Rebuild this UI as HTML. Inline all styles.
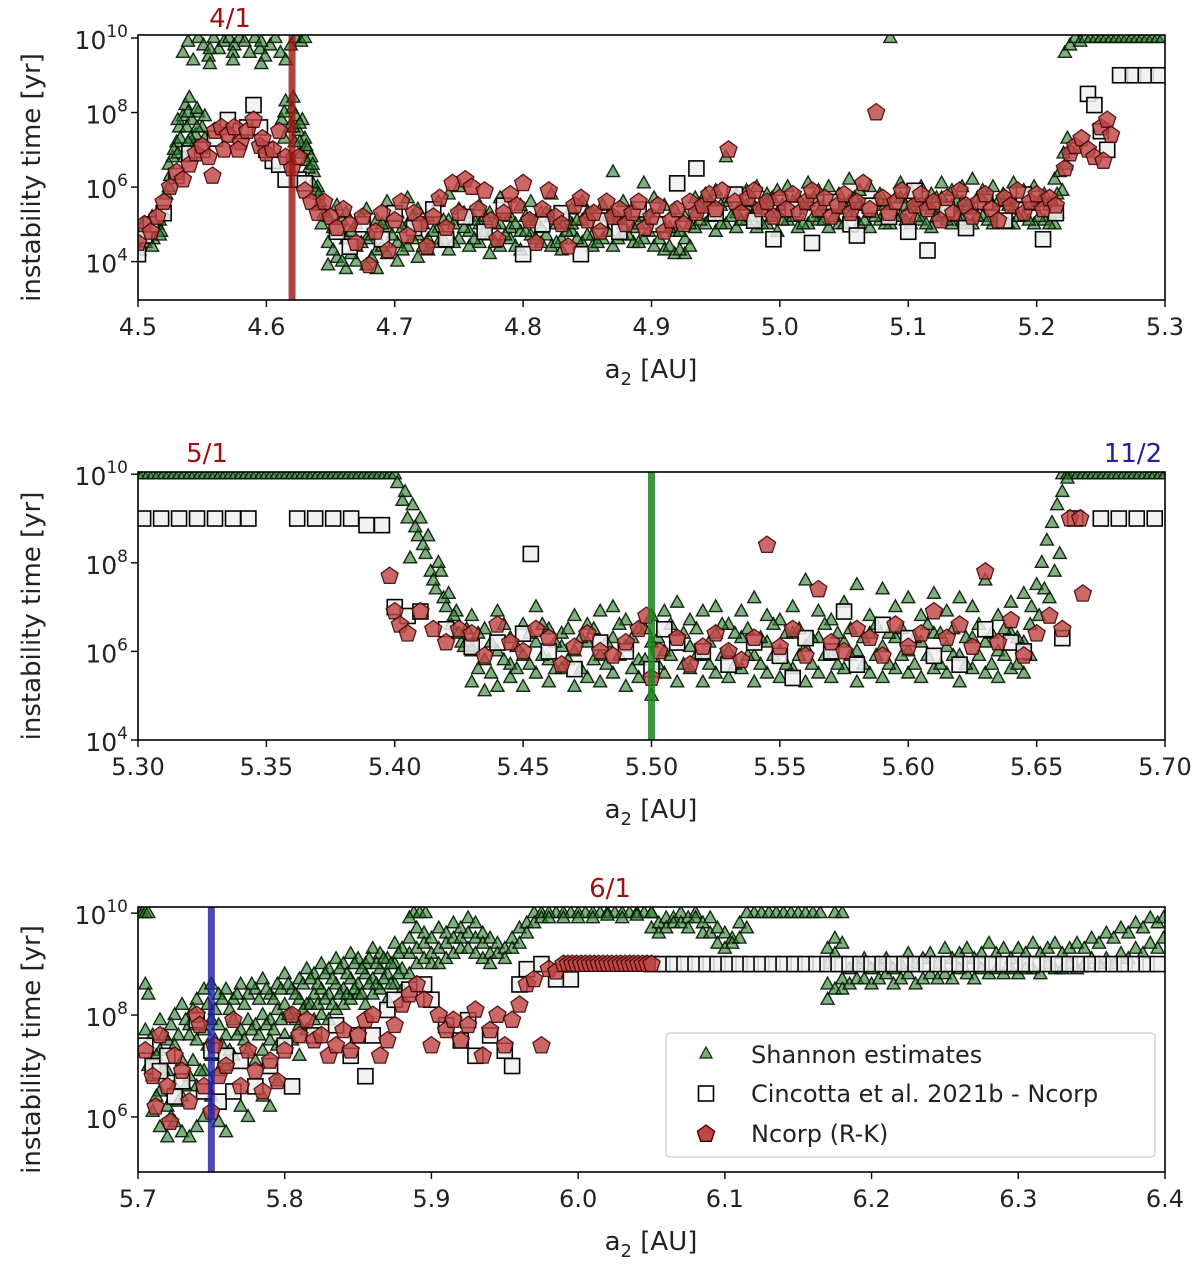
<!DOCTYPE html>
<html><head><meta charset="utf-8"><style>
html,body{margin:0;padding:0;background:#fff}
svg{display:block;font-family:"DejaVu Sans","Liberation Sans",sans-serif}
</style></head><body>
<svg id="chart" width="1200" height="1267" viewBox="0 0 1200 1267"></svg>
<script>
// ---------- Panel 1 data (x in AU, value = log10(years)) ----------
const p1GreenRows = [[4.501,4.3],[4.503,4.7],[4.506,4.5],[4.509,4.9],[4.512,4.6],[4.515,5.0],[4.518,4.8],[4.52,5.3],[4.522,5.8],[4.525,6.3],[4.527,6.8],[4.53,7.2],[4.532,7.6],[4.535,7.9],[4.537,8.2],[4.54,8.4],[4.542,7.8],[4.545,7.4],[4.547,8.0],[4.55,7.6],[4.528,7.0],[4.533,7.3],[4.538,7.6],[4.543,7.1],[4.548,7.0],[4.536,6.8],[4.541,7.3],
[4.535,9.6],[4.539,9.9],[4.543,9.4],[4.547,10],[4.551,9.8],[4.555,9.5],[4.559,10],[4.563,9.7],[4.567,9.9],[4.571,10],[4.575,9.8],[4.579,10],[4.583,9.9],[4.587,9.6],[4.591,10],[4.595,9.7],[4.599,9.5],[4.603,9.8],[4.607,10],[4.611,9.6],[4.615,9.4],[4.619,9.8],[4.623,10],[4.627,9.9],[4.63,10],
[4.612,7.8],[4.615,8.3],[4.618,7.6],[4.62,8.1],[4.623,7.9],[4.625,7.5],[4.628,7.8],[4.63,7.3],[4.632,7.0],[4.635,6.8],[4.637,6.4],[4.64,6.0],[4.642,5.6],[4.645,5.3],[4.618,6.8],[4.622,7.2],[4.627,6.9],[4.633,6.5],[4.638,5.9],[4.643,5.0],
[4.648,4.5,5.2,3.9],[4.655,4.1,4.8,5.5],[4.662,3.8,4.6,5.3],[4.67,4.0,5.0,4.4],[4.678,3.9,5.4,4.6],[4.686,4.3,3.8,5.1],[4.694,4.2,4.9,5.6],[4.702,4.5,5.3,4.0],[4.71,4.4,5.0,5.7],[4.718,4.1,4.7,5.4],[4.726,4.6,5.2,4.3],[4.734,4.5,5.6,4.9],[4.742,4.3,5.1,5.8],[4.75,4.6,5.4,6.0],[4.758,4.8,5.2,4.4],[4.766,4.5,5.5,5.0],[4.774,4.7,5.3,4.2],[4.782,4.4,5.0,5.7],[4.79,4.6,5.2,4.9],[4.798,4.3,5.5,4.8],[4.806,4.7,5.1,5.6],[4.814,4.5,4.9,5.3],[4.822,4.4,5.2,5.8],[4.83,4.6,5.0,4.3],[4.838,4.8,5.4,5.0],[4.846,4.5,5.1,5.6],[4.854,4.7,5.3,4.4],[4.862,4.6,5.5,5.0],[4.87,4.4,5.2,6.4],[4.878,4.7,5.0,5.6],[4.886,4.5,5.4,4.9],[4.894,4.6,5.2,6.1],[4.902,4.4,5.1,5.7],[4.91,4.3,4.9,5.5],[4.918,4.2,4.8,5.4],[4.926,4.2,4.6,5.2],[4.934,4.9,5.3,5.7],[4.942,5.0,5.5,5.8],[4.95,4.8,5.4,5.9],[4.958,5.0,5.6,6.8],[4.966,4.9,5.3,5.8],[4.974,5.1,5.5,5.9],[4.982,4.9,5.4,6.0],[4.99,5.0,5.6,5.8],[4.998,4.8,5.3,5.9],[5.006,5.1,5.5,6.0],[5.014,4.9,5.4,5.7],[5.022,5.0,5.6,6.1],[5.03,5.1,5.3,5.9],[5.038,4.9,5.5,6.0],[5.046,5.0,5.4,5.8],[5.054,5.2,5.6,6.2],[5.062,5.0,5.5,5.9],[5.07,4.9,5.3,6.0],[5.078,5.1,5.6,5.8],[5.086,5.0,5.4,10.0],[5.094,5.2,5.7,6.1],[5.102,5.0,5.5,5.9],[5.11,5.1,5.6,6.0],[5.118,4.9,5.4,5.8],[5.126,5.2,5.7,6.1],[5.134,5.0,5.5,5.9],[5.142,5.1,5.6,6.0],[5.15,5.0,5.4,6.2],[5.158,5.2,5.7,5.9],[5.166,5.0,5.5,6.0],[5.174,5.1,5.6,5.8],[5.182,5.0,5.4,6.1],[5.19,5.2,5.7,5.9],[5.198,5.0,5.5,6.0],[5.206,5.1,5.6,5.8],[5.214,5.0,5.5,6.2],
[5.218,6.4],[5.221,6.9],[5.224,7.3],[5.226,7.0],[5.223,6.6],[5.22,5.9],[5.222,9.6],[5.226,9.8],[5.23,10],[5.234,9.9],[5.238,10],[5.242,10],[5.246,10],[5.25,10],[5.254,10],[5.258,10],[5.262,10],[5.266,10],[5.27,10],[5.274,10],[5.278,10],[5.282,10],[5.286,10],[5.29,10],[5.294,10],[5.298,10]];
const p1GreenExtra = [[4.504,4.6,5.0],[4.511,4.4,5.2],[4.517,5.1,4.7],[4.524,6.0,6.6],[4.531,6.9,7.8],[4.539,7.2,8.0],[4.546,7.6,8.1],[4.552,7.3,7.9],[4.556,9.7,9.3],[4.574,9.6,9.4],[4.596,9.9,9.3],[4.614,7.3,8.0],[4.621,7.6,8.4],[4.626,7.2,7.7],[4.631,6.7,7.1],[4.636,6.1,6.6],[4.641,5.5,5.8],
[4.652,4.3,4.9],[4.659,4.0,5.1],[4.666,4.2,4.8],[4.674,4.5,5.2],[4.682,4.1,4.7],[4.69,4.4,5.0],[4.698,4.7,5.2],[4.706,4.3,4.9],[4.714,4.6,5.2],[4.722,4.4,5.0],[4.73,4.8,5.3],[4.738,4.6,5.1],[4.746,4.5,5.0],[4.754,4.9,5.3],[4.762,4.6,5.1],[4.77,4.8,5.2],[4.778,4.5,5.0],[4.786,4.7,5.3],[4.794,4.4,5.0],[4.802,4.8,5.2],[4.81,4.6,5.1],[4.818,4.7,5.3],[4.826,4.5,5.0],[4.834,4.8,5.2],[4.842,4.6,5.1],[4.85,4.7,5.3],[4.858,4.5,5.0],[4.866,4.8,5.2],[4.874,4.6,5.1],[4.882,4.7,5.3],[4.89,4.5,5.0],[4.898,4.8,5.2],[4.906,4.6,5.0],[4.914,4.4,4.9],[4.922,4.3,4.8],[4.93,4.4,5.0],[4.938,5.1,5.5],[4.946,5.2,5.6],[4.954,5.0,5.5],[4.962,5.2,5.7],[4.97,5.1,5.5],[4.978,5.2,5.6],[4.986,5.0,5.5],[4.994,5.2,5.7],[5.002,5.1,5.5],[5.01,5.2,5.6],[5.018,5.0,5.5],[5.026,5.2,5.7],[5.034,5.1,5.5],[5.042,5.2,5.6],[5.05,5.0,5.5],[5.058,5.2,5.7],[5.066,5.1,5.5],[5.074,5.2,5.6],[5.082,5.0,5.5],[5.09,5.2,5.7],[5.098,5.1,5.5],[5.106,5.2,5.6],[5.114,5.0,5.5],[5.122,5.2,5.7],[5.13,5.1,5.5],[5.138,5.2,5.6],[5.146,5.0,5.5],[5.154,5.2,5.7],[5.162,5.1,5.5],[5.17,5.2,5.6],[5.178,5.0,5.5],[5.186,5.2,5.7],[5.194,5.1,5.5],[5.202,5.2,5.6],[5.21,5.0,5.5],[5.216,5.3,5.8]];
const p1Squares = [[4.5,4.2],[4.505,4.7],[4.51,5.0],[4.52,5.3],[4.53,6.3],[4.54,6.9],[4.55,7.0],[4.56,7.3],[4.57,7.8],[4.58,7.5],[4.585,7.6],[4.59,8.2],[4.595,7.6],[4.6,7.0],[4.605,6.7],[4.61,6.6],[4.615,6.2],[4.625,6.2],[4.63,6.1],
[4.655,4.8],[4.665,4.4],[4.675,5.0],[4.69,4.6],[4.70,5.3],[4.715,4.9],[4.73,5.4],[4.74,4.6],[4.755,5.2],[4.77,4.8],[4.785,5.5],[4.80,4.2],[4.815,5.0],[4.83,5.3],[4.845,4.2],[4.86,5.1],[4.875,4.8],[4.89,5.4],[4.905,5.0],[4.92,6.1],[4.935,6.5],[4.95,5.3],[4.965,5.8],[4.98,5.1],[4.995,4.6],[5.01,5.4],[5.025,4.5],[5.04,5.6],[5.055,5.0],[5.07,5.5],[5.085,5.2],[5.10,4.8],[5.115,4.3],[5.13,5.4],[5.145,4.9],[5.16,5.6],[5.175,5.1],[5.19,5.8],[5.205,4.6],[5.215,5.3],[5.105,5.9],[5.06,4.7],
[5.24,8.5],[5.245,8.2],[5.25,7.5],[5.255,7.0],[5.265,9.0],[5.275,9.0],[5.285,9.0],[5.295,9.0]];
const p1Red = [[4.5,4.5],[4.505,5.0],[4.51,4.8],[4.515,5.2],[4.52,5.6],[4.525,6.0],[4.53,6.4],[4.535,6.2],[4.54,6.6],[4.545,6.9],[4.55,7.1],[4.555,6.8],[4.56,7.5],[4.565,7.6],[4.57,7.4],[4.575,7.6],[4.58,7.2],[4.585,7.5],[4.59,7.8],[4.595,7.1],[4.6,6.9],[4.605,7.0],[4.61,7.5],[4.615,6.8],[4.62,6.5],[4.625,6.8],[4.558,6.3],[4.567,7.0],[4.578,7.0],[4.597,7.3],[4.63,5.9],[4.635,5.6],[4.64,5.3],
[4.645,5.6],[4.65,5.2],[4.655,4.9],[4.66,5.4],[4.665,5.0],[4.67,4.5],[4.675,5.2],[4.68,3.9],[4.685,4.8],[4.69,5.3],[4.695,4.3],[4.70,5.1],[4.705,5.6],[4.71,4.7],[4.715,5.3],[4.72,5.0],[4.725,4.4],[4.73,5.2],[4.735,5.7],[4.74,4.9],[4.745,6.1],[4.75,5.3],[4.755,6.2],[4.76,6.0],[4.765,5.4],[4.77,5.9],[4.775,5.1],[4.78,4.6],[4.785,5.3],[4.79,5.8],[4.795,5.5],[4.80,6.1],[4.805,5.1],[4.81,4.5],[4.815,5.4],[4.82,5.9],[4.825,5.2],[4.83,5.0],[4.835,4.4],[4.84,5.5],[4.845,5.7],[4.85,5.1],[4.855,5.3],[4.86,4.8],[4.865,5.6],[4.87,5.2],[4.875,5.4],[4.88,5.0],[4.885,5.3],[4.89,5.6],[4.895,4.9],[4.90,5.2],[4.905,5.5],[4.91,4.8],[4.915,5.1],[4.92,5.4],[4.925,5.0],[4.93,5.6],[4.935,5.3],[4.94,5.5],[4.945,5.8],[4.95,5.4],[4.955,5.9],[4.96,7.0],[4.965,5.6],[4.97,5.3],[4.975,5.7],[4.98,5.9],[4.985,5.4],[4.99,5.6],[4.995,5.2],[5.00,5.7],[5.005,5.4],[5.01,5.8],[5.015,5.3],[5.02,5.6],[5.025,5.9],[5.03,5.4],[5.035,5.7],[5.04,5.2],[5.045,5.5],[5.05,5.8],[5.055,5.3],[5.06,5.6],[5.065,6.1],[5.07,5.4],[5.075,8.0],[5.08,5.7],[5.085,5.3],[5.09,5.6],[5.095,5.9],[5.10,5.2],[5.105,5.5],[5.11,5.8],[5.115,5.4],[5.12,5.6],[5.125,5.1],[5.13,5.7],[5.135,5.3],[5.14,5.9],[5.145,5.5],[5.15,5.2],[5.155,5.6],[5.16,5.8],[5.165,5.4],[5.17,5.1],[5.175,5.7],[5.18,5.5],[5.185,5.9],[5.19,5.3],[5.195,5.6],[5.20,5.8],[5.205,5.4],[5.21,5.7],[5.215,5.5],
[5.222,6.5],[5.226,6.9],[5.23,7.1],[5.235,7.3],[5.24,7.0],[5.245,6.8],[5.25,7.6],[5.255,7.8],[5.252,6.7],[5.258,7.4]];

// ---------- Panel 2 data ----------
const p2SatX = [5.300,5.302,5.304,5.306,5.308,5.310,5.312,5.314,5.316,5.318,5.320,5.322,5.324,5.326,5.328,5.330,5.332,5.334,5.336,5.338,5.340,5.342,5.344,5.346,5.348,5.350,5.352,5.354,5.356,5.358,5.360,5.362,5.364,5.366,5.368,5.370,5.372,5.374,5.376,5.378,5.380,5.382,5.384,5.386,5.388,5.390,5.392,5.394,5.396,5.398,5.400,5.660,5.662,5.664,5.666,5.668,5.670,5.672,5.674,5.676,5.678,5.680,5.682,5.684,5.686,5.688,5.690,5.692,5.694,5.696,5.698,5.700];
const p2GreenRows = [[5.401,9.8],[5.403,9.4],[5.405,9.0],[5.407,9.3],[5.409,8.6],[5.41,9.0],[5.412,8.2],[5.414,7.8],[5.416,7.4],[5.418,7.8],[5.42,7.0],[5.422,6.6],[5.424,6.9],[5.426,6.2],[5.428,6.5],[5.43,6.0],[5.406,8.1],[5.413,8.6],[5.419,7.2],[5.404,9.6],[5.408,8.8],[5.411,8.4],[5.415,7.6],[5.417,8.0],[5.421,7.3],[5.423,6.8],[5.425,6.4],[5.427,6.1],
[5.43,5.3,6.1,6.8],[5.435,5.1,5.8,6.5],[5.44,5.2,6.0,6.9],[5.445,5.4,6.3,5.7],[5.45,5.2,5.9,6.6],[5.455,5.5,6.2,7.0],[5.46,5.3,5.8,6.5],[5.465,5.6,6.4,6.1],[5.47,5.2,6.0,6.8],[5.475,5.4,6.2,6.6],[5.48,5.3,5.9,6.9],[5.485,5.5,6.3,7.0],[5.49,5.2,6.1,6.7],[5.495,5.4,5.8,6.5],[5.50,5.0,6.2,6.8],[5.505,5.5,6.0,6.9],[5.51,5.3,6.3,7.1],[5.515,5.6,6.1,6.7],[5.52,5.3,5.9,6.9],[5.525,5.5,6.4,7.0],[5.53,5.4,6.0,6.6],[5.535,5.6,6.3,6.9],[5.54,5.3,5.9,7.2],[5.545,5.5,6.2,6.8],[5.55,5.4,6.0,6.7],[5.555,5.6,6.4,7.0],[5.56,5.3,6.1,7.6],[5.565,5.5,6.3,6.9],[5.57,5.4,5.9,6.7],[5.575,5.6,6.2,7.1],[5.58,5.3,6.0,7.5],[5.585,5.5,6.4,6.8],[5.59,5.4,6.1,7.4],[5.595,5.6,6.3,7.0],[5.60,5.5,6.0,7.2],[5.605,5.4,6.2,6.8],[5.61,5.6,6.4,7.3],[5.615,5.5,6.1,6.9],[5.62,5.3,5.9,7.2],[5.625,5.6,6.3,7.0],[5.63,5.5,6.2,7.6],[5.635,5.4,6.0,6.8],[5.64,5.6,6.4,7.1],[5.645,5.5,6.2,7.3],
[5.4325,5.6,6.4],[5.4375,5.5,6.2],[5.4425,5.8,6.6],[5.4475,5.6,6.1],[5.4525,5.7,6.4],[5.4575,5.9,6.6],[5.4625,5.6,6.2],[5.4675,5.8,6.5],[5.4725,5.6,6.3],[5.4775,5.8,6.5],[5.4825,5.7,6.2],[5.4875,5.9,6.6],[5.4925,5.6,6.3],[5.4975,5.8,6.5],[5.5025,5.7,6.3],[5.5075,5.9,6.6],[5.5125,5.7,6.4],[5.5175,5.9,6.5],[5.5225,5.7,6.2],[5.5275,5.9,6.6],[5.5325,5.7,6.4],[5.5375,5.9,6.5],[5.5425,5.7,6.3],[5.5475,5.9,6.6],[5.5525,5.7,6.4],[5.5575,5.9,6.5],[5.5625,5.7,6.3],[5.5675,5.9,6.6],[5.5725,5.7,6.4],[5.5775,5.9,6.5],[5.5825,5.7,6.3],[5.5875,5.9,6.6],[5.5925,5.7,6.4],[5.5975,5.9,6.5],[5.6025,5.7,6.3],[5.6075,5.9,6.6],[5.6125,5.7,6.4],[5.6175,5.9,6.5],[5.6225,5.7,6.3],[5.6275,5.9,6.6],[5.6325,5.7,6.4],[5.6375,5.9,6.5],[5.6425,5.7,6.3],[5.6475,5.9,6.6],
[5.65,7.5],[5.652,8.0],[5.654,8.5],[5.656,8.9],[5.658,9.3],[5.66,9.6],[5.655,7.2],[5.657,7.8],[5.659,8.2],[5.662,9.9],[5.651,6.8],[5.653,7.4],[5.648,7.0]];
const p2Squares = [[5.302,9],[5.309,9],[5.316,9],[5.323,9],[5.330,9],[5.337,9],[5.343,9],[5.362,9],[5.369,9],[5.376,9],[5.383,9],[5.389,8.85],[5.395,8.85],[5.40,7.0],[5.405,6.8],[5.41,6.9],[5.453,8.2],
[5.42,6.5],[5.43,6.1],[5.44,6.2],[5.45,6.4],[5.46,6.0],[5.47,5.6],[5.48,6.2],[5.49,6.0],[5.50,5.6],[5.505,6.5],[5.51,6.2],[5.52,6.0],[5.53,5.7],[5.54,6.2],[5.55,5.9],[5.555,5.4],[5.56,6.3],[5.57,6.0],[5.575,6.9],[5.58,5.7],[5.59,6.6],[5.60,6.3],[5.61,5.9],[5.62,5.7],[5.63,6.5],[5.64,6.2],[5.645,6.0],[5.66,6.3],[5.665,9.0],[5.675,9.0],[5.682,9.0],[5.689,9.0],[5.696,9.0]];
const p2Red = [[5.398,7.7],[5.40,6.9],[5.402,6.6],[5.405,6.4],[5.41,6.9],[5.415,6.5],[5.42,6.2],[5.425,6.5],[5.43,6.4],[5.435,5.9],[5.44,6.6],[5.445,6.2],[5.45,6.0],[5.455,6.5],[5.46,6.3],[5.465,5.7],[5.47,6.1],[5.475,6.4],[5.48,6.0],[5.485,5.9],[5.49,6.2],[5.495,6.5],[5.50,5.4],[5.498,6.8],[5.503,6.0],[5.51,6.3],[5.515,5.7],[5.52,6.1],[5.525,6.4],[5.53,6.0],[5.535,5.8],[5.54,6.3],[5.545,8.4],[5.55,6.1],[5.555,6.5],[5.56,5.9],[5.565,7.4],[5.57,6.2],[5.575,6.0],[5.58,6.5],[5.585,6.3],[5.59,5.9],[5.595,6.6],[5.60,6.1],[5.605,6.4],[5.61,6.9],[5.615,6.3],[5.62,6.6],[5.625,6.1],[5.63,7.8],[5.635,6.2],[5.64,6.7],[5.645,5.9],[5.65,6.4],[5.655,6.8],[5.66,6.5],[5.663,9.0],[5.667,9.0],[5.668,7.3]];

// ---------- Panel 3 data ----------
const p3SatX = [5.701,5.703,5.705,5.707,5.888,5.892,5.896,5.985,5.99,5.995,6.0,6.005,6.01,6.015,6.02,6.025,6.03,6.035,6.04,6.045,6.05,6.12,6.125,6.13,6.135,6.14,6.145,6.15,6.155,6.16,6.165,6.175,6.18];
const p3GreenRows = [[5.705,8.6,7.7],[5.707,8.4,7.0],[5.71,7.6,6.8,6.1],[5.715,7.9,7.3,6.5,5.8],[5.72,7.5,6.9,6.2,5.6],[5.725,8.0,7.4,6.6,5.9],[5.73,8.2,7.1,6.4,5.7],[5.735,7.8,7.6,6.8,5.6],[5.74,8.3,7.5,6.6,5.8],[5.745,8.5,7.7,6.9,6.0],[5.75,8.6,7.9,7.2,6.4],[5.755,8.4,7.8,6.9,5.9],[5.76,8.5,7.6,7.0,5.7],[5.765,8.3,7.9,7.2],[5.77,8.6,7.7,6.2],[5.775,8.4,7.9,7.3,6.0],[5.78,8.5,7.8,7.1],[5.785,8.7,8.0,7.3,6.4],[5.79,8.4,7.9,7.5,6.2],[5.795,8.6,8.1,7.4,6.7],[5.80,8.8,8.2,7.6],[5.805,8.5,8.0,7.5],[5.81,8.7,8.3,7.8,7.2],[5.815,8.9,8.2,7.7],[5.82,8.8,8.4,7.9],[5.825,9.0,8.5,8.0],[5.83,8.9,8.4,7.9],[5.835,9.1,8.6,8.1],[5.84,9.0,8.5,8.2],[5.845,9.2,8.7,8.3],[5.85,9.1,8.6,8.4],[5.855,9.0,8.8,8.2],[5.86,9.3,8.7,8.4],[5.865,9.2,8.9,8.5],[5.87,9.1,8.8,8.3],[5.875,9.4,9.0,8.6],[5.88,9.3,8.9,8.5],[5.885,9.9,9.5,9.2,8.8],[5.89,9.7,9.3,9.0],[5.895,9.6,9.4,9.1],[5.90,9.5,9.2,9.0],[5.905,9.7,9.3,9.0],[5.91,9.6,9.4,9.1],[5.915,9.8,9.5,9.2],[5.92,9.7,9.5,9.3],[5.925,9.9,9.6,9.3],[5.93,9.8,9.5,9.2],[5.935,9.6,9.4,9.1],[5.94,9.5,9.2,9.0],[5.945,9.4,9.2],[5.95,9.3,9.1],[5.955,9.5,9.3],[5.96,9.7,9.4],[5.965,9.8,9.6],[5.97,10,9.8],[5.975,10,9.9],[5.98,10,9.9],[5.99,9.9],[6.0,9.9],[6.01,9.9],[6.02,9.95],[6.03,9.9],[6.04,9.95],[6.05,10,9.7],[6.055,9.8,9.6],[6.06,9.9,9.7],[6.065,9.9,9.8],[6.07,10,9.8],[6.075,9.9,9.7],[6.08,10,9.9],[6.085,9.8,9.6],[6.09,9.9,9.6],[6.095,9.7,9.4],[6.10,9.6,9.3],[6.105,9.5,9.4],[6.11,9.8,9.5],[6.115,10,9.7],
[5.7125,7.2,6.4],[5.7175,7.6,6.9],[5.7225,7.8,6.0],[5.7275,7.6,6.3],[5.7325,7.9,6.6],[5.7375,8.1,7.1],[5.7425,7.8,6.9],[5.7475,8.2,7.4],[5.7525,8.1,7.5],[5.7575,8.3,7.4],[5.7625,8.1,7.3],[5.7675,8.4,7.6],[5.7725,8.2,7.5],[5.7775,8.6,7.7],[5.7825,8.3,7.6],[5.7875,8.5,7.8],[5.7925,8.3,7.7],[5.7975,8.5,7.9],[5.8025,8.6,8.0],[5.8075,8.4,7.9],[5.8125,8.6,8.1],[5.8175,8.7,8.2],[5.8225,8.6,8.2],[5.8275,8.8,8.3],[5.8325,8.7,8.2],[5.8375,8.9,8.4],[5.8425,8.8,8.4],[5.8475,9.0,8.5],[5.8525,8.9,8.4],[5.8575,9.1,8.6],[5.8625,9.0,8.6],[5.8675,9.1,8.7],[5.8725,9.0,8.6],[5.8775,9.2,8.8],
[6.17,9.3,9.0,8.6,8.3],[6.175,9.5,9.2,8.5],[6.18,8.7,8.5,9.4],[6.185,8.9,8.6],[6.19,9.0,8.7],[6.195,9.1,8.7],[6.20,8.9,8.6],[6.205,9.0,8.7],[6.21,9.1,8.8],[6.215,8.9,8.6],[6.22,9.0,8.7],[6.225,9.2,8.8],[6.23,9.0,8.6],[6.235,9.1,8.7],[6.24,9.2,8.8],[6.245,9.0,8.7],[6.25,9.3,8.8],[6.255,9.1,8.7],[6.26,9.2,8.9],[6.265,9.3,8.8],[6.27,9.1,8.7],[6.275,9.2,8.9],[6.28,9.4,8.8],[6.285,9.2,8.9],[6.29,9.3,8.8],[6.295,9.1,8.9],[6.30,9.3,8.8],[6.305,9.2,8.9],[6.31,9.4,8.9],[6.315,9.2,8.8],[6.32,9.3,9.0],[6.325,9.4,8.9],[6.33,9.2,8.9],[6.335,9.3,9.0],[6.34,9.4,8.9],[6.345,9.3,9.0],[6.35,9.5,9.1],[6.355,9.4,9.0],[6.36,9.6,9.1],[6.365,9.5,9.0],[6.37,9.7,9.2],[6.375,9.6,9.1],[6.38,9.8,9.3],[6.385,9.7,9.2],[6.39,9.9,9.4],[6.395,9.8,9.3],[6.399,9.9,9.5]];
const p3Squares = [[5.705,7.4],[5.71,7.0],[5.715,6.9],[5.72,7.2],[5.725,6.4],[5.73,6.7],[5.74,7.9],[5.745,6.5],[5.75,7.3],[5.755,6.3],[5.76,7.2],[5.765,6.5],[5.77,7.1],[5.78,6.6],[5.79,7.0],[5.80,7.4],[5.805,6.6],[5.82,7.6],[5.835,7.8],[5.845,7.2],[5.85,7.6],[5.855,6.8],[5.86,7.6],[5.87,8.1],[5.875,8.3],[5.885,8.5],[5.895,8.6],[5.90,8.3],[5.91,7.8],[5.92,7.5],[5.925,7.9],[5.93,7.2],[5.94,7.6],[5.95,7.3],[5.955,7.0],[5.96,8.6],[5.965,8.9],[5.975,9.0],[5.985,8.7],[5.995,8.7],
[6.05,9],[6.0575,9],[6.065,9],[6.0725,9],[6.08,9],[6.0875,9],[6.095,9],[6.1025,9],[6.11,9],[6.1175,9],[6.125,9],[6.1325,9],[6.14,9],[6.1475,9],[6.155,9],[6.1625,9],[6.17,9],[6.1775,9],[6.185,9],[6.1925,9],[6.2,9],[6.2075,9],[6.215,9],[6.2225,9],[6.23,9],[6.2375,9],[6.245,9],[6.2525,9],[6.26,9],[6.2675,9],[6.275,9],[6.2825,9],[6.29,9],[6.2975,9],[6.305,9],[6.3125,9],[6.32,9],[6.3275,9],[6.335,9],[6.3425,9],[6.35,9],[6.3575,9],[6.365,9],[6.3725,9],[6.38,9],[6.3875,9],[6.395,9]];
const p3Red = [[5.705,7.3],[5.71,6.8],[5.712,6.2],[5.715,7.6],[5.72,6.6],[5.722,5.9],[5.725,7.2],[5.73,6.9],[5.735,6.3],[5.74,8.0],[5.742,7.8],[5.745,6.6],[5.75,6.1],[5.752,7.4],[5.755,6.8],[5.76,7.0],[5.765,7.9],[5.77,6.6],[5.775,7.3],[5.78,6.9],[5.785,6.5],[5.79,7.1],[5.795,6.7],[5.80,7.3],[5.805,8.0],[5.81,7.6],[5.815,7.9],[5.82,7.5],[5.825,7.6],[5.83,7.2],[5.835,7.4],[5.84,7.7],[5.845,7.3],[5.85,7.6],[5.855,7.9],[5.86,8.0],[5.865,7.2],[5.87,7.5],[5.875,7.8],[5.88,8.2],[5.885,8.4],[5.89,8.6],[5.895,8.3],[5.90,7.4],[5.905,8.0],[5.91,7.7],[5.915,7.9],[5.92,7.5],[5.925,7.8],[5.93,8.1],[5.935,7.2],[5.94,7.7],[5.945,8.0],[5.95,7.4],[5.955,7.9],[5.96,8.2],[5.965,8.6],[5.975,7.4],[5.97,8.7],[5.98,8.9],[5.985,8.85],
[5.99,9],[5.993,9],[5.996,9],[5.999,9],[6.002,9],[6.005,9],[6.008,9],[6.011,9],[6.014,9],[6.017,9],[6.02,9],[6.023,9],[6.026,9],[6.029,9],[6.032,9],[6.035,9],[6.038,9],[6.041,9],[6.044,9],[6.047,9],[6.05,9]];

// tick labels
const p1XTicks = ["4.5","4.6","4.7","4.8","4.9","5.0","5.1","5.2","5.3"];
const p2XTicks = ["5.30","5.35","5.40","5.45","5.50","5.55","5.60","5.65","5.70"];
const p3XTicks = ["5.7","5.8","5.9","6.0","6.1","6.2","6.3","6.4"];
const p1YTicks = [4,6,8,10];
const p2YTicks = [4,6,8,10];
const p3YTicks = [6,8,10];

const NS = "http://www.w3.org/2000/svg";
const svg = document.getElementById('chart');
function mk(tag, attrs, parent){const e=document.createElementNS(NS,tag);for(const k in attrs)e.setAttribute(k,attrs[k]);(parent||svg).appendChild(e);return e;}

const panels = [
 {id:'top', x0:4.5,x1:5.3, y0:2.97,y1:10.08, top:35,bottom:300, xt:p1XTicks, yt:p1YTicks, g:p1GreenRows.concat(p1GreenExtra), sat:[], sq:p1Squares, rd:p1Red, vline:4.62, vcol:'rgba(160,20,20,0.8)'},
 {id:'middle', x0:5.3,x1:5.7, y0:4.0,y1:10.05, top:472,bottom:740, xt:p2XTicks, yt:p2YTicks, g:p2GreenRows, sat:p2SatX, sq:p2Squares, rd:p2Red, vline:5.50, vcol:'rgba(30,130,30,0.85)'},
 {id:'bottom', x0:5.7,x1:6.4, y0:4.92,y1:10.12, top:907,bottom:1172, xt:p3XTicks, yt:p3YTicks, g:p3GreenRows, sat:p3SatX, sq:p3Squares, rd:p3Red, vline:5.75, vcol:'rgba(30,30,160,0.8)'}
];
const L=138, R=1165;

function tri(g,cx,cy,s){const h=s*0.9;return mk('polygon',{points:`${cx},${cy-h*0.62} ${cx-s/2},${cy+h*0.38} ${cx+s/2},${cy+h*0.38}`,fill:'#2f7a2f','fill-opacity':'0.6',stroke:'#001800','stroke-opacity':'0.9','stroke-width':'1.4'},g);}
function pent(g,cx,cy,r){let p=[];for(let i=0;i<5;i++){const a=-Math.PI/2+i*2*Math.PI/5;p.push((cx+r*Math.cos(a)).toFixed(1)+','+(cy+r*Math.sin(a)).toFixed(1));}return mk('polygon',{points:p.join(' '),fill:'#c04545','fill-opacity':'0.82',stroke:'#3a0000','stroke-opacity':'0.85','stroke-width':'1.3'},g);}
function sqr(g,cx,cy,s){return mk('rect',{x:cx-s/2,y:cy-s/2,width:s,height:s,fill:'#f0f0f0','fill-opacity':'0.85',stroke:'#000','stroke-width':'1.6'},g);}

panels.forEach(P=>{
  const xs=v=>L+(v-P.x0)/(P.x1-P.x0)*(R-L);
  const ys=v=>P.bottom-(v-P.y0)/(P.y1-P.y0)*(P.bottom-P.top);
  const grp=mk('g',{});
  
  
  mk('clipPath',{id:'clip-'+P.id},grp);
  const cp=grp.lastChild; mk('rect',{x:L,y:P.top,width:R-L,height:P.bottom-P.top},cp);
  const plot=mk('g',{'clip-path':`url(#clip-${P.id})`},grp);
  
  
  const gg=mk('g',{},plot);
  
  
  P.sat.forEach(x=>{const t=tri(gg,xs(x),ys(10),13);
    
    });
  P.g.forEach(r=>{for(let i=1;i<r.length;i++){const t=tri(gg,xs(r[0]),ys(r[i]),13);
    
    }});
  const gs=mk('g',{},plot);
  
  
  P.sq.forEach(p=>{const s=sqr(gs,xs(p[0]),ys(p[1]),15);
    
    });
  const gr=mk('g',{},plot);
  
  
  P.rd.forEach(p=>{const s=pent(gr,xs(p[0]),ys(p[1]),9);
    
    });
  const vl=mk('line',{x1:xs(P.vline),x2:xs(P.vline),y1:P.top,y2:P.bottom,stroke:P.vcol,'stroke-width':7},plot);
  
  
  const fr=mk('rect',{x:L,y:P.top,width:R-L,height:P.bottom-P.top,fill:'none',stroke:'#000','stroke-width':1.6},grp);
  
  
  P.xt.forEach((lab,i)=>{const v=P.x0+i*(P.x1-P.x0)/(P.xt.length-1);const x=xs(v);
    mk('line',{x1:x,x2:x,y1:P.bottom,y2:P.bottom+7,stroke:'#000','stroke-width':1.4},grp);
    const t=mk('text',{x:x,y:P.bottom+35,'text-anchor':'middle','font-size':24,fill:'#222'},grp);t.textContent=lab;
    
    });
  P.yt.forEach(v=>{const y=ys(v);
    mk('line',{x1:L-7,x2:L,y1:y,y2:y,stroke:'#000','stroke-width':1.4},grp);
    const t=mk('text',{x:L-10,y:y+11,'text-anchor':'end','font-size':25,fill:'#222'},grp);
    
    
    const a=mk('tspan',{},t);a.textContent='10';
    const b=mk('tspan',{'font-size':17,dy:-12},t);b.textContent=String(v);});
  const xl=mk('text',{x:651,y:P.bottom+78,'text-anchor':'middle','font-size':26,fill:'#222'},grp);
  
  
  const a1=mk('tspan',{},xl);a1.textContent='a';
  const a2=mk('tspan',{'font-size':18,dy:7},xl);a2.textContent='2';
  const a3=mk('tspan',{dy:-7},xl);a3.textContent=' [AU]';
  const cy=(P.top+P.bottom)/2+10;
  const yl=mk('text',{x:0,y:0,transform:`translate(40,${cy}) rotate(-90)`,'text-anchor':'middle','font-size':26,fill:'#222'},grp);
  yl.textContent='instability time [yr]';
  
  
});
</script>
<script>
// annotations and legend
(function(){
 const NS="http://www.w3.org/2000/svg", svg=document.getElementById('chart');
 function mk(tag,a,p){const e=document.createElementNS(NS,tag);for(const k in a)e.setAttribute(k,a[k]);(p||svg).appendChild(e);return e;}
 const labels=[['4/1',230,27,'#a01010'],['5/1',207,462,'#a01010'],['11/2',1133,462,'#2020a0'],['6/1',610,897,'#a01010']];
 labels.forEach(l=>{const t=mk('text',{x:l[1],y:l[2],'text-anchor':'middle','font-size':26,fill:l[3]});t.textContent=l[0];
  
  });
 const lg=mk('g',{});
 
 
 mk('rect',{x:666,y:1033,width:489,height:124,rx:4,fill:'#fff','fill-opacity':0.85,stroke:'#ccc','stroke-width':1.3},lg);
 const cx=706;
 mk('polygon',{points:`${cx},1047 ${cx-6},1058 ${cx+6},1058`,fill:'#3f8f3f','fill-opacity':'0.7',stroke:'#002a00','stroke-width':1.2},lg);
 mk('rect',{x:cx-7.5,y:1086,width:15,height:15,fill:'#fff',stroke:'#000','stroke-width':1.6},lg);
 let p=[];for(let i=0;i<5;i++){const a=-Math.PI/2+i*2*Math.PI/5;p.push((cx+9*Math.cos(a)).toFixed(1)+','+(1134+9*Math.sin(a)).toFixed(1));}
 mk('polygon',{points:p.join(' '),fill:'#c04545',stroke:'#3a0000','stroke-width':1.3},lg);
 [['Shannon estimates',1063],['Cincotta et al. 2021b - Ncorp',1102],['Ncorp (R-K)',1142]].forEach(e=>{
  const t=mk('text',{x:751,y:e[1],'font-size':24,fill:'#222'},lg);t.textContent=e[0];
  
  });
})();
</script>
</body></html>
